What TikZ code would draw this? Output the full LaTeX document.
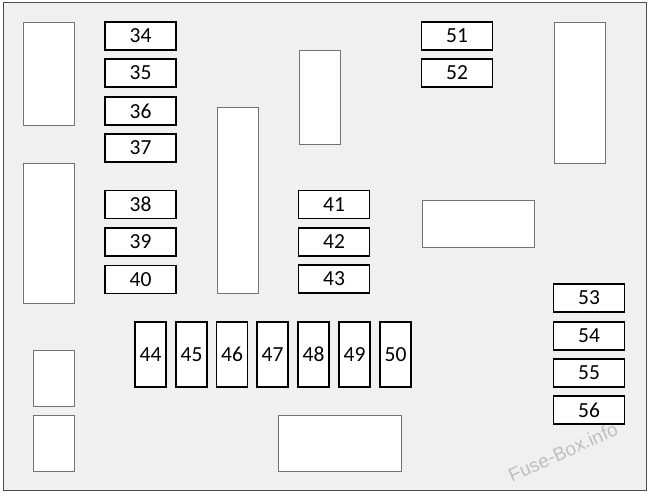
\documentclass[tikz,border=0pt]{standalone}
\usepackage{fontspec}
\setmainfont{Carlito}
\newfontfamily\wmfont{Liberation Sans}
\begin{document}
\begin{tikzpicture}[x=1pt,y=-1pt,
  fuseh/.style={draw=black,line width=1.3pt,fill=white,minimum width=71pt,minimum height=28pt,inner sep=0pt,font=\fontsize{21.5}{21.5}\selectfont},
  fusev/.style={draw=black,line width=1.3pt,fill=white,minimum width=31pt,minimum height=65pt,inner sep=0pt,font=\fontsize{21.5}{21.5}\selectfont},
  relay/.style={draw=black!55,line width=0.9pt,fill=white,inner sep=0pt}]
\useasboundingbox (0,0) rectangle (650,495);
\fill[white] (0,0) rectangle (650,495);
\draw[draw=black!70,fill=black!6,line width=1pt] (3,3) rectangle (646,490);
% relays / blanks
\node (r1) [relay,minimum width=51pt,minimum height=103pt] at (48.5,73.5) {};
\node (r2) [relay,minimum width=51pt,minimum height=140pt] at (48.5,233) {};
\node (r3) [relay,minimum width=41pt,minimum height=56pt] at (53.5,378) {};
\node (r4) [relay,minimum width=41pt,minimum height=56pt] at (53.5,443) {};
\node (r5) [relay,minimum width=41pt,minimum height=186pt] at (237.5,200) {};
\node (r6) [relay,minimum width=41pt,minimum height=94pt] at (319.5,97) {};
\node (r7) [relay,minimum width=123pt,minimum height=56pt] at (339.5,443) {};
\node (r8) [relay,minimum width=112pt,minimum height=47pt] at (478,223.5) {};
\node (r9) [relay,minimum width=51pt,minimum height=141pt] at (579.5,92.5) {};
% horizontal fuses
\node (f34) [fuseh] at (140.5,36) {34};
\node (f35) [fuseh] at (140.5,73) {35};
\node (f36) [fuseh] at (140.5,111) {36};
\node (f37) [fuseh] at (140.5,148) {37};
\node (f38) [fuseh] at (140.5,204.5) {38};
\node (f39) [fuseh] at (140.5,242) {39};
\node (f40) [fuseh] at (140.5,279.5) {40};
\node (f41) [fuseh] at (334,204.5) {41};
\node (f42) [fuseh] at (334,242) {42};
\node (f43) [fuseh] at (334,279) {43};
\node (f51) [fuseh] at (457,36) {51};
\node (f52) [fuseh] at (457,73) {52};
\node (f53) [fuseh] at (589,298) {53};
\node (f54) [fuseh] at (589,336) {54};
\node (f55) [fuseh] at (589,373) {55};
\node (f56) [fuseh] at (589,410) {56};
% vertical fuses
\node (f44) [fusev] at (150.5,354.5) {44};
\node (f45) [fusev] at (191.5,354.5) {45};
\node (f46) [fusev] at (232,354.5) {46};
\node (f47) [fusev] at (272.5,354.5) {47};
\node (f48) [fusev] at (313.5,354.5) {48};
\node (f49) [fusev] at (354.5,354.5) {49};
\node (f50) [fusev] at (395.5,354.5) {50};
% watermark
\node (wm) [rotate=24,text=black!25,inner sep=0pt,font=\wmfont\fontsize{19}{19}\selectfont] at (563,452) {Fuse-Box.info};
\end{tikzpicture}
\end{document}
